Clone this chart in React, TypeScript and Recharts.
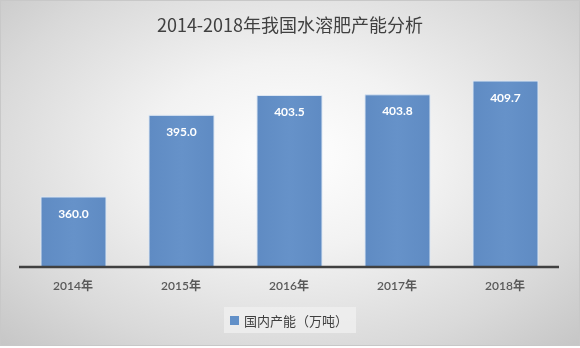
import React from 'react';
import { BarChart, Bar, XAxis, YAxis, LabelList, Legend } from 'recharts';

const years = ['2014年', '2015年', '2016年', '2017年', '2018年'];
const capacity = [360.0, 395.0, 403.5, 403.8, 409.7];
const seriesName = '国内产能（万吨）';
const title = '2014-2018年我国水溶肥产能分析';

const data = years.map((y, i) => ({ year: y, value: capacity[i] }));

const FONT = "Lato, 'Noto Sans CJK SC', sans-serif";

const LegendContent = () => (
  <div style={{ display: 'flex', justifyContent: 'center' }}>
    <div
      style={{
        display: 'flex',
        alignItems: 'center',
        height: 26,
        padding: '0 8px 0 6px',
        background: 'rgba(240,240,240,0.75)',
        fontFamily: "'Noto Sans CJK SC', sans-serif",
        fontSize: 13,
        color: '#404040',
      }}
    >
      <span style={{ width: 9, height: 9, background: '#6290C8', marginRight: 5, display: 'inline-block' }} />
      <span>{seriesName}</span>
    </div>
  </div>
);

export default function App() {
  return (
    <div
      style={{
        position: 'fixed',
        left: 0,
        top: 0,
        width: 578,
        height: 344,
        border: '1px solid #c8c8c8',
        background: 'radial-gradient(ellipse at 50% 45%, #ffffff 0%, #f2f2f2 35%, #d9d9d9 75%, #c6c6c6 100%)',
      }}
    >
      <div
        style={{
          position: 'absolute',
          top: 10,
          left: 0,
          width: '100%',
          textAlign: 'center',
          fontFamily: "'Noto Sans CJK SC', sans-serif",
          fontSize: 18,
          color: '#404040',
        }}
      >
        {title}
      </div>
      <BarChart
        width={578}
        height={344}
        data={data}
        margin={{ top: 56, right: 20, left: 18, bottom: 22 }}
      >
        <defs>
          <linearGradient id="barFill" x1="0" y1="0" x2="1" y2="0">
            <stop offset="0%" stopColor="#5f8bc3" />
            <stop offset="50%" stopColor="#6692c9" />
            <stop offset="100%" stopColor="#5f8bc3" />
          </linearGradient>
        </defs>
        <XAxis
          dataKey="year"
          axisLine={{ stroke: '#404040', strokeWidth: 2.5 }}
          tickLine={false}
          height={30}
          tick={{ fill: '#595959', fontSize: 12, fontFamily: FONT, fontWeight: 600 }}
          tickMargin={8}
        />
        <YAxis hide domain={[330, 420]} />
        <Legend
          content={<LegendContent />}
          wrapperStyle={{ position: 'absolute', left: 0, width: 578, top: 306 }}
        />
        <Bar dataKey="value" barSize={65} fill="url(#barFill)" stroke="#dce6f2" strokeWidth={1} isAnimationActive={false}>
          <LabelList
            dataKey="value"
            position="insideTop"
            offset={12}
            formatter={(v: number) => v.toFixed(1)}
            style={{ fill: '#ffffff', fontSize: 12, fontWeight: 700, fontFamily: FONT }}
          />
        </Bar>
      </BarChart>
    </div>
  );
}
